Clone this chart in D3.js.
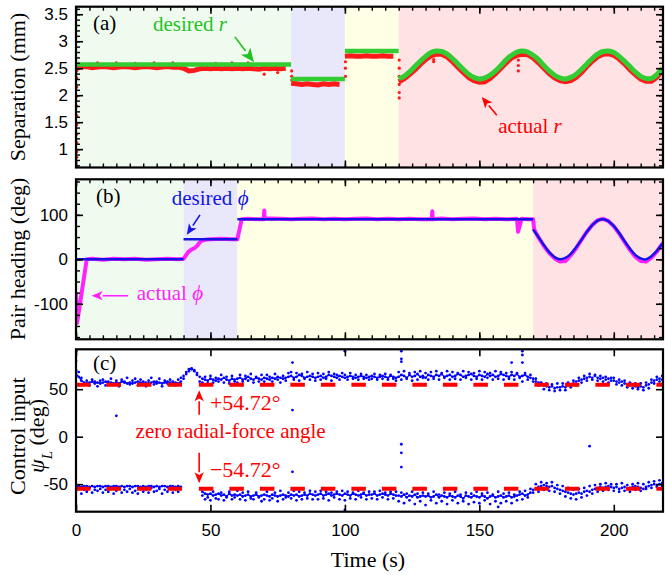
<!DOCTYPE html>
<html>
<head>
<meta charset="utf-8">
<script src="https://cdn.jsdelivr.net/npm/d3@7"></script>
<style>
    body { margin: 0; background: #fff; }
    svg { display: block; }
    .tick text { font-family: "Liberation Sans", Arial, sans-serif; font-size: 17px; fill: #000; }
    .serif { font-family: "Liberation Serif", "Times New Roman", serif; }
</style>
</head>
<body>
<div class="visualisation"></div>
<script>
// ---- data ----
// shaded phases (start times, s)
const phaseStartsA = [0, 80, 100, 120];
const phaseStartsB = [0, 40, 60, 170];
const phaseColors = ["#f0fbf0", "#e8e8fa", "#ffffe6", "#fee2e4"];

// (a) separation, desired r: constant pieces then the sine part
const rSetStarts = [0, 80, 100];
const rSetEnds = [80, 100, 120];
const rSetLevels = [2.57, 2.30, 2.82];
const rSineTime = d3.range(120, 219, 2);
const rSine = [
    2.31, 2.35, 2.43, 2.53, 2.63, 2.72, 2.79, 2.82, 2.81, 2.76,
    2.68, 2.58, 2.48, 2.39, 2.33, 2.30, 2.32, 2.37, 2.45, 2.55,
    2.66, 2.74, 2.80, 2.82, 2.80, 2.74, 2.66, 2.55, 2.45, 2.37,
    2.32, 2.30, 2.33, 2.39, 2.48, 2.58, 2.68, 2.76, 2.81, 2.82,
    2.79, 2.72, 2.63, 2.53, 2.43, 2.35, 2.31, 2.31, 2.38, 2.50
];
// (a) actual r every 2 s
const rActTime = d3.range(0, 219, 2);
const rAct = [
    2.50, 2.52, 2.53, 2.51, 2.52, 2.53, 2.52, 2.51, 2.52, 2.53,
    2.52, 2.51, 2.52, 2.53, 2.52, 2.51, 2.52, 2.53, 2.52, 2.52,
    2.50, 2.45, 2.46, 2.49, 2.50, 2.49, 2.50, 2.49, 2.50, 2.49,
    2.50, 2.49, 2.50, 2.49, 2.48, 2.50, 2.49, 2.50, 2.49, 2.50,
    2.22, 2.21, 2.20, 2.21, 2.20, 2.19, 2.21, 2.20, 2.21, 2.20,
    2.72, 2.73, 2.72, 2.72, 2.73, 2.72, 2.72, 2.73, 2.72, 2.72,
    2.25, 2.30, 2.38, 2.47, 2.57, 2.66, 2.73, 2.76, 2.76, 2.71,
    2.62, 2.52, 2.42, 2.33, 2.27, 2.24, 2.25, 2.31, 2.40, 2.50,
    2.60, 2.69, 2.74, 2.76, 2.75, 2.69, 2.60, 2.50, 2.40, 2.32,
    2.27, 2.25, 2.27, 2.33, 2.42, 2.53, 2.63, 2.71, 2.76, 2.77,
    2.74, 2.67, 2.58, 2.47, 2.38, 2.30, 2.26, 2.26, 2.33, 2.45
];
// (a) loose red samples (transients and strays)
const rDotTime = [0.3, 0.3, 0.3, 0.3, 0.3, 0.3, 0.3, 0.3, 0.3, 0.3, 0.3,
    80.2, 80.2, 80.2, 100.2, 100.2, 100.2,
    120.2, 120.2, 120.2, 120.2, 120.2, 120.2, 133, 133, 164.5, 164.5, 164.5,
    8, 15, 22, 29, 36, 52, 58, 64, 70, 75];
const rDotVal = [2.45, 2.32, 2.15, 1.98, 1.8, 1.62, 1.45, 1.28, 1.12, 0.95, 0.85,
    2.45, 2.35, 2.28, 2.35, 2.5, 2.62,
    2.65, 2.5, 2.35, 2.2, 2.05, 1.95, 2.62, 2.66, 2.45, 2.55, 2.65,
    2.6, 2.6, 2.59, 2.6, 2.6, 2.59, 2.6, 2.6, 2.39, 2.42];

// (b) pair heading, desired phi
const phiSetStarts = [0, 40, 60];
const phiSetEnds = [40, 60, 170];
const phiSetLevels = [0, 45, 90];
const phiSineTime = d3.range(170, 219, 2);
const phiSine = [
    67, 50, 32, 16, 5, 0, 3, 12, 27, 44,
    62, 77, 87, 90, 86, 75, 59, 41, 24, 10,
    2, 0, 7, 19, 35
];
// (b) actual phi
const phiActTime = [0, 0.4, 4, 6, 10, 14, 18, 22, 26, 30, 34, 38,
    40, 41, 42, 43, 44, 45, 46, 47, 48, 50, 54, 58, 60, 61.6,
    64, 68, 69.8, 70, 70.2, 72, 76, 80, 84, 88, 92, 96, 100, 104, 108, 112, 116, 120,
    124, 128, 132.3, 132.5, 132.7, 136, 140, 144, 148, 152, 156, 160, 164, 164.4, 165.7,
    168, 170, 170.4, 172, 174, 176, 178, 180, 182, 184, 186, 188, 190, 192, 194, 196,
    198, 200, 202, 204, 206, 208, 210, 212, 214, 216, 218.3];
const phiAct = [-75, -143, 0, 1, -1, 1, 0, 1, -1, 0, 1, 0,
    1, 10, 18, 22, 25, 30, 38, 42, 44, 45, 46, 45, 45, 90,
    91, 90, 90, 110, 91, 92, 91, 90, 91, 92, 90, 91, 90, 91, 92, 90, 91, 90,
    91, 90, 90, 108, 90, 92, 90, 91, 92, 90, 91, 90, 91, 62, 91,
    90, 90, 67, 49, 30, 14, 2, -5, -4, 9, 25, 44, 62, 77, 88, 91,
    86, 74, 58, 39, 21, 6, -4, -5, 4, 17, 37];

// (c) control input psi_L, one sample column per second
const psiTime = d3.range(0, 219);
const upperA = [
    66, 63, 59, 57, 56, 57, 58, 56, 57, 56,
    57, 58, 56, 57, 56, 57, 56, 58, 57, 56,
    57, 56, 57, 58, 57, 56, 57, 56, 57, 58,
    56, 57, 56, 57, 58, 57, 56, 57, 56, 58,
    61, 66, 69, 71, 70, 67, 63, 61, 60, 59,
    61, 60, 59, 61, 60, 62, 60, 59, 61, 60,
    61, 62, 60, 61, 63, 61, 60, 62, 61, 60,
    62, 61, 60, 62, 61, 63, 62, 61, 62, 63,
    64, 62, 63, 65, 64, 62, 63, 64, 63, 62,
    63, 64, 62, 63, 65, 64, 63, 62, 64, 63,
    62, 63, 64, 63, 62, 63, 64, 63, 62, 63,
    64, 63, 62, 63, 64, 63, 62, 64, 63, 62,
    63, 65, 64, 62, 65, 63, 64, 66, 63, 64,
    62, 65, 64, 63, 65, 64, 66, 63, 64, 65,
    63, 64, 66, 65, 63, 64, 65, 66, 64, 63,
    65, 64, 63, 66, 64, 65, 63, 64, 66, 65,
    64, 63, 65, 64, 66, 63, 64, 65, 63, 62,
    61, 58, 57, 55, 54, 53, 52, 53, 51, 52,
    52, 53, 52, 54, 55, 56, 58, 59, 60, 61,
    62, 63, 62, 64, 62, 61, 62, 60, 61, 59,
    59, 58, 57, 58, 56, 55, 54, 55, 53, 52,
    53, 52, 54, 55, 57, 59, 60, 61, 60
];
const upperB = [
    70, 68, 62, 55, 59, 54, 60, 58, 53, 59,
    60, 54, 58, 61, 55, 59, 53, 60, 58, 62,
    55, 59, 61, 54, 60, 58, 53, 59, 62, 55,
    58, 61, 53, 59, 56, 60, 58, 54, 60, 62,
    64, 68, 71, 72, 69, 65, 58, 57, 63, 56,
    64, 57, 62, 58, 65, 57, 63, 56, 64, 58,
    57, 65, 58, 64, 59, 66, 57, 63, 58, 65,
    58, 65, 63, 58, 66, 60, 57, 64, 59, 67,
    68, 60, 67, 59, 66, 61, 68, 60, 66, 59,
    67, 60, 66, 61, 68, 59, 66, 65, 60, 67,
    65, 60, 67, 61, 65, 60, 66, 61, 65, 60,
    61, 66, 60, 65, 61, 66, 60, 65, 61, 59,
    68, 60, 69, 61, 67, 59, 68, 60, 69, 62,
    67, 60, 68, 61, 69, 60, 67, 62, 69, 60,
    68, 61, 67, 60, 69, 62, 68, 60, 67, 61,
    69, 60, 68, 62, 67, 60, 69, 61, 68, 60,
    67, 61, 68, 60, 67, 62, 58, 67, 60, 65,
    58, 61, 54, 57, 50, 56, 49, 55, 48, 56,
    49, 56, 49, 57, 52, 59, 54, 62, 57, 64,
    59, 66, 60, 65, 59, 64, 58, 63, 57, 62,
    62, 55, 60, 54, 59, 52, 57, 51, 56, 50,
    56, 49, 57, 51, 60, 56, 63, 58, 64
];
const lowerA = [
    -53, -52, -53, -52, -52, -53, -52, -53, -52, -52,
    -53, -52, -52, -53, -52, -52, -53, -52, -53, -52,
    -52, -53, -52, -52, -53, -52, -53, -52, -52, -53,
    -52, -53, -52, -52, -53, -52, -52, -53, -52, -53,
    null, null, null, null, null, null, null, -58, -60, -61,
    -60, -62, -61, -60, -62, -61, -63, -60, -62, -61,
    -62, -61, -63, -62, -61, -63, -62, -61, -63, -62,
    -61, -62, -63, -61, -62, -63, -62, -61, -62, -63,
    -61, -62, -61, -63, -62, -61, -62, -60, -61, -62,
    -61, -60, -62, -61, -60, -62, -61, -60, -61, -62,
    -60, -61, -62, -60, -61, -62, -61, -60, -62, -61,
    -61, -60, -62, -61, -60, -61, -62, -60, -61, -62,
    -62, -63, -61, -64, -62, -63, -61, -64, -63, -62,
    -63, -62, -64, -63, -61, -64, -62, -63, -64, -62,
    -63, -64, -62, -63, -65, -62, -63, -64, -62, -63,
    -64, -62, -63, -65, -63, -62, -64, -63, -62, -64,
    -63, -62, -64, -63, -62, -61, -60, -62, -61, -59,
    -56, -55, -53, -52, -51, -52, -53, -52, -54, -55,
    -56, -57, -58, -59, -60, -61, -60, -59, -60, -58,
    -57, -58, -56, -55, -54, -53, -54, -53, -52, -53,
    -54, -53, -55, -54, -53, -55, -54, -53, -52, -53,
    -54, -55, -53, -52, -51, -50, -51, -50, -49
];
const lowerB = [
    -57, -55, -60, -56, -58, -54, -59, -56, -57, -55,
    -59, -56, -58, -55, -60, -57, -54, -59, -56, -58,
    -55, -59, -57, -60, -55, -58, -56, -59, -54, -58,
    -57, -55, -60, -56, -58, -53, -59, -56, -58, -55,
    null, null, null, null, null, null, null, -62, -66, -64,
    -67, -58, -65, -66, -59, -67, -64, -58, -66, -64,
    -57, -66, -59, -67, -58, -65, -66, -59, -64, -68,
    -66, -58, -67, -65, -59, -68, -57, -66, -64, -59,
    -65, -57, -67, -58, -66, -59, -65, -57, -66, -58,
    -66, -57, -65, -58, -67, -59, -64, -58, -66, -57,
    -67, -58, -65, -59, -66, -57, -64, -59, -66, -58,
    -65, -58, -66, -57, -64, -59, -66, -58, -65, -58,
    -68, -59, -70, -60, -67, -58, -71, -60, -68, -59,
    -72, -60, -67, -58, -70, -61, -68, -59, -71, -60,
    -67, -58, -70, -61, -68, -59, -71, -60, -69, -58,
    -70, -60, -67, -59, -71, -61, -68, -58, -70, -60,
    -68, -59, -70, -61, -67, -58, -66, -57, -64, -55,
    -59, -50, -58, -48, -56, -49, -57, -48, -58, -51,
    -60, -52, -63, -54, -65, -56, -66, -55, -64, -54,
    -62, -52, -60, -51, -58, -50, -57, -49, -56, -50,
    -57, -50, -58, -49, -57, -51, -58, -50, -56, -49,
    -57, -50, -55, -48, -54, -47, -53, -46, -52
];
const strayTime = [0, 0, 15, 80.5, 80.5, 80.5, 100, 100, 121, 121, 121, 121, 121, 121, 157, 162, 166, 166, 166, 191];
const strayVal = [90, 80, 22, 78, 28, -37, 90, -77, 90, 82, 79, -8, -17, -32, -74, 78, 90, 86, 78, -10];
const zeroAngle = 54.72;
const zeroAngleSpans = [[0, 40], [45.7, 218.3]];

// ticks
const xMajor = [0, 50, 100, 150, 200];
const xMinor = d3.range(0, 219, 5);
const aYTicks = [1, 1.5, 2, 2.5, 3, 3.5];
const aYMinor = d3.range(0.7, 3.65, 0.1);
const bYTicks = [-100, 0, 100];
const bYMinor = d3.range(-175, 176, 25);
const cYTicks = [-50, 0, 50];

// ---- layout ----
const width = 665, height = 575;
const svg = d3.select(".visualisation").append("svg")
    .attr("width", width)
    .attr("height", height);

const x = d3.scaleLinear().domain([0, 218.3]).range([76, 663]);
const yA = d3.scaleLinear().domain([0.66, 3.64]).range([167.5, 6.7]);
const yB = d3.scaleLinear().domain([-180, 180]).range([339.3, 179.3]);
const yC = d3.scaleLinear().domain([-79, 92]).range([511.7, 349.3]);

const defs = svg.append("defs");

function panel(id, y, starts) {
    const g = svg.append("g");
    const [b, t] = y.range();
    defs.append("clipPath").attr("id", "clip-" + id)
        .append("rect")
        .attr("x", x.range()[0]).attr("y", t)
        .attr("width", x.range()[1] - x.range()[0]).attr("height", b - t);
    if (starts) {
        starts.forEach((s, i) => {
            const e = i + 1 < starts.length ? starts[i + 1] : x.domain()[1];
            g.append("rect")
                .attr("x", x(s)).attr("y", t)
                .attr("width", x(e) - x(s)).attr("height", b - t)
                .attr("fill", phaseColors[i]);
        });
    }
    const data = g.append("g").attr("clip-path", `url(#clip-${id})`);
    return { g, data };
}

function frame(g, y, yMajor, yMinor, withMinorX, showX) {
    const [b, t] = y.range();
    const L = x.range()[0], R = x.range()[1];
    const put = (axis, tx, ty, w) => {
        const s = g.append("g").attr("transform", `translate(${tx},${ty})`).call(axis);
        s.select(".domain").remove();
        s.selectAll("line").attr("stroke", "#000").attr("stroke-width", w || 1.6);
        return s;
    };
    const none = () => "";
    put(d3.axisLeft(y).tickValues(yMajor).tickSize(-7).tickPadding(8).tickFormat(d => String(d)), L, 0);
    put(d3.axisRight(y).tickValues(yMajor).tickSize(-7).tickFormat(none), R, 0);
    put(d3.axisBottom(x).tickValues(xMajor).tickSize(-7).tickPadding(12)
        .tickFormat(showX ? d => String(d) : none), 0, b);
    put(d3.axisTop(x).tickValues(xMajor).tickSize(-7).tickFormat(none), 0, t);
    if (yMinor) {
        put(d3.axisLeft(y).tickValues(yMinor).tickSize(-4).tickFormat(none), L, 0, 1.4);
        put(d3.axisRight(y).tickValues(yMinor).tickSize(-4).tickFormat(none), R, 0, 1.4);
    }
    if (withMinorX) {
        put(d3.axisBottom(x).tickValues(xMinor).tickSize(-4).tickFormat(none), 0, b, 1.4);
        put(d3.axisTop(x).tickValues(xMinor).tickSize(-4).tickFormat(none), 0, t, 1.4);
    }
    g.append("rect")
        .attr("x", L).attr("y", t)
        .attr("width", R - L).attr("height", b - t)
        .attr("fill", "none").attr("stroke", "#000").attr("stroke-width", 2.2);
}

function arrow(g, x1, y1, x2, y2, color, head) {
    const hl = head || 10, hw = hl * 0.42;
    const a = Math.atan2(y2 - y1, x2 - x1);
    const bx = x2 - hl * Math.cos(a), by = y2 - hl * Math.sin(a);
    g.append("line")
        .attr("x1", x1).attr("y1", y1).attr("x2", bx).attr("y2", by)
        .attr("stroke", color).attr("stroke-width", 1.6);
    g.append("path")
        .attr("d", `M${x2},${y2}L${bx + hw * Math.sin(a)},${by - hw * Math.cos(a)}`
            + `L${bx + 0.25 * hl * Math.cos(a)},${by + 0.25 * hl * Math.sin(a)}`
            + `L${bx - hw * Math.sin(a)},${by + hw * Math.cos(a)}Z`)
        .attr("fill", color);
}

function label(g, px, py, parts, color, size, anchor) {
    const t = g.append("text")
        .attr("class", "serif")
        .attr("x", px).attr("y", py)
        .attr("fill", color)
        .attr("font-size", size || 21)
        .attr("text-anchor", anchor || "start");
    parts.forEach(p => {
        const s = t.append("tspan").text(p[0]);
        if (p[1]) s.attr("font-style", "italic");
    });
    return t;
}

// ---- panel (a) ----
const pa = panel("a", yA, phaseStartsA);
const lineA = d3.line().x(d => x(d[0])).y(d => yA(d[1]));
const rPairs = rActTime.map((t, i) => [t, rAct[i]]);
[[0, 79], [80, 99], [100, 119], [120, 219]].forEach(([s, e]) => {
    pa.data.append("path")
        .attr("d", lineA(rPairs.filter(d => d[0] >= s && d[0] <= e)))
        .attr("fill", "none").attr("stroke", "#ff1a1a").attr("stroke-width", 5);
});
pa.data.selectAll("circle.rdot")
    .data(rDotTime.map((t, i) => [t, rDotVal[i]]))
    .join("circle")
    .attr("class", "rdot")
    .attr("cx", d => x(d[0])).attr("cy", d => yA(d[1]))
    .attr("r", 1.6).attr("fill", "#ff1a1a");
rSetLevels.forEach((v, i) => {
    pa.data.append("path")
        .attr("d", lineA([[rSetStarts[i], v], [rSetEnds[i], v]]))
        .attr("stroke", "#33cc33").attr("stroke-width", 4.5);
});
pa.data.append("path")
    .attr("d", lineA.curve(d3.curveCatmullRom)(rSineTime.map((t, i) => [t, rSine[i]])))
    .attr("fill", "none").attr("stroke", "#33cc33").attr("stroke-width", 5);
lineA.curve(d3.curveLinear);
frame(pa.g, yA, aYTicks, aYMinor, true, false);
label(pa.g, x(6.3), yA(3.21), [["(a)"]], "#000");
label(pa.g, x(28.6), yA(3.19), [["desired "], ["r", true]], "#22c322");
arrow(pa.g, x(59.1), yA(3.08), x(66.2), yA(2.61), "#22c322", 14);
label(pa.g, x(157), yA(1.30), [["actual "], ["r", true]], "#ff0000");
arrow(pa.g, x(156.5), yA(1.63), x(150.9), yA(1.965), "#ff0000", 11);

// ---- panel (b) ----
const pb = panel("b", yB, phaseStartsB);
const lineB = d3.line().x(d => x(d[0])).y(d => yB(d[1]));
pb.data.append("path")
    .attr("d", lineB(phiActTime.map((t, i) => [t, phiAct[i]])))
    .attr("fill", "none").attr("stroke", "#ff22ff").attr("stroke-width", 4)
    .attr("stroke-linejoin", "round");
phiSetLevels.forEach((v, i) => {
    pb.data.append("path")
        .attr("d", lineB([[phiSetStarts[i], v], [phiSetEnds[i], v]]))
        .attr("stroke", "#1414e6").attr("stroke-width", 2.5);
});
pb.data.append("path")
    .attr("d", lineB.curve(d3.curveCatmullRom)(phiSineTime.map((t, i) => [t, phiSine[i]])))
    .attr("fill", "none").attr("stroke", "#1414e6").attr("stroke-width", 2.5);
frame(pb.g, yB, bYTicks, bYMinor, true, false);
label(pb.g, x(7.4), yB(126), [["(b)"]], "#000");
label(pb.g, x(35.6), yB(122), [["desired "], ["\u03D5", true]], "#1414e6");
arrow(pb.g, x(46.1), yB(100), x(41.2), yB(55), "#1414e6", 11);
label(pb.g, x(22.6), yB(-91.5), [["actual  "], ["\u03D5", true]], "#ff22ff");
arrow(pb.g, x(19.4), yB(-82), x(5.8), yB(-82), "#ff22ff", 11);

// ---- panel (c) ----
const pc = panel("c", yC, null);
const dots = [];
psiTime.forEach((t, i) => {
    [upperA[i], upperB[i], lowerA[i], lowerB[i]].forEach(v => { if (v != null) dots.push([t, v]); });
});
strayTime.forEach((t, i) => dots.push([t, strayVal[i]]));
const lineC = d3.line()
    .defined(d => d[1] != null && (d[0] < 40 || (d[0] >= 47 && d[0] < 170)))
    .x(d => x(d[0])).y(d => yC(d[1]));
[upperA, lowerA].forEach(arr => {
    pc.data.append("path")
        .attr("d", lineC(psiTime.map((t, i) => [t, arr[i]])))
        .attr("fill", "none").attr("stroke", "#0000ff").attr("stroke-width", 1.2);
});
pc.data.selectAll("circle.psi")
    .data(dots)
    .join("circle")
    .attr("class", "psi")
    .attr("cx", d => x(d[0])).attr("cy", d => yC(d[1]))
    .attr("r", 1.4).attr("fill", "#0000ff");
[zeroAngle, -zeroAngle].forEach(v => {
    zeroAngleSpans.forEach(([s, e]) => {
        pc.data.append("line")
            .attr("x1", x(s)).attr("x2", x(e))
            .attr("y1", yC(v)).attr("y2", yC(v))
            .attr("stroke", "#ff0000").attr("stroke-width", 4)
            .attr("stroke-dasharray", "14.5,16");
    });
});
frame(pc.g, yC, cYTicks, null, false, true);
label(pc.g, x(6.3), yC(70), [["(c)"]], "#000");
label(pc.g, x(49.8), yC(28), [["+54.72\u00B0"]], "#ff0000", 22);
arrow(pc.g, x(45.8), yC(23), x(45.8), yC(49), "#ff0000", 11);
label(pc.g, x(57.5), yC(-1), [["zero radial-force angle"]], "#ff0000", 21, "middle");
label(pc.g, x(49.8), yC(-42), [["\u221254.72\u00B0"]], "#ff0000", 22);
arrow(pc.g, x(45.8), yC(-17), x(45.8), yC(-49), "#ff0000", 11);

// ---- axis titles ----
function vtitle(px, py, parts) {
    const t = svg.append("text")
        .attr("class", "serif")
        .attr("transform", `translate(${px},${py}) rotate(-90)`)
        .attr("text-anchor", "middle")
        .attr("font-size", 22);
    parts.forEach(p => {
        const s = t.append("tspan").text(p[0]);
        if (p[1]) s.attr("font-style", "italic");
        if (p[2]) s.attr("baseline-shift", "sub").attr("font-size", 15);
    });
}
vtitle(25, 87, [["Separation (mm)"]]);
vtitle(25, 259, [["Pair heading (deg)"]]);
vtitle(25, 436, [["Control input"]]);
vtitle(44, 436, [["\u03C8", true], ["L", true, true], [" (deg)"]]);
svg.append("text")
    .attr("class", "serif")
    .attr("x", 368).attr("y", 567)
    .attr("text-anchor", "middle")
    .attr("font-size", 22)
    .text("Time (s)");
</script>
</body>
</html>
